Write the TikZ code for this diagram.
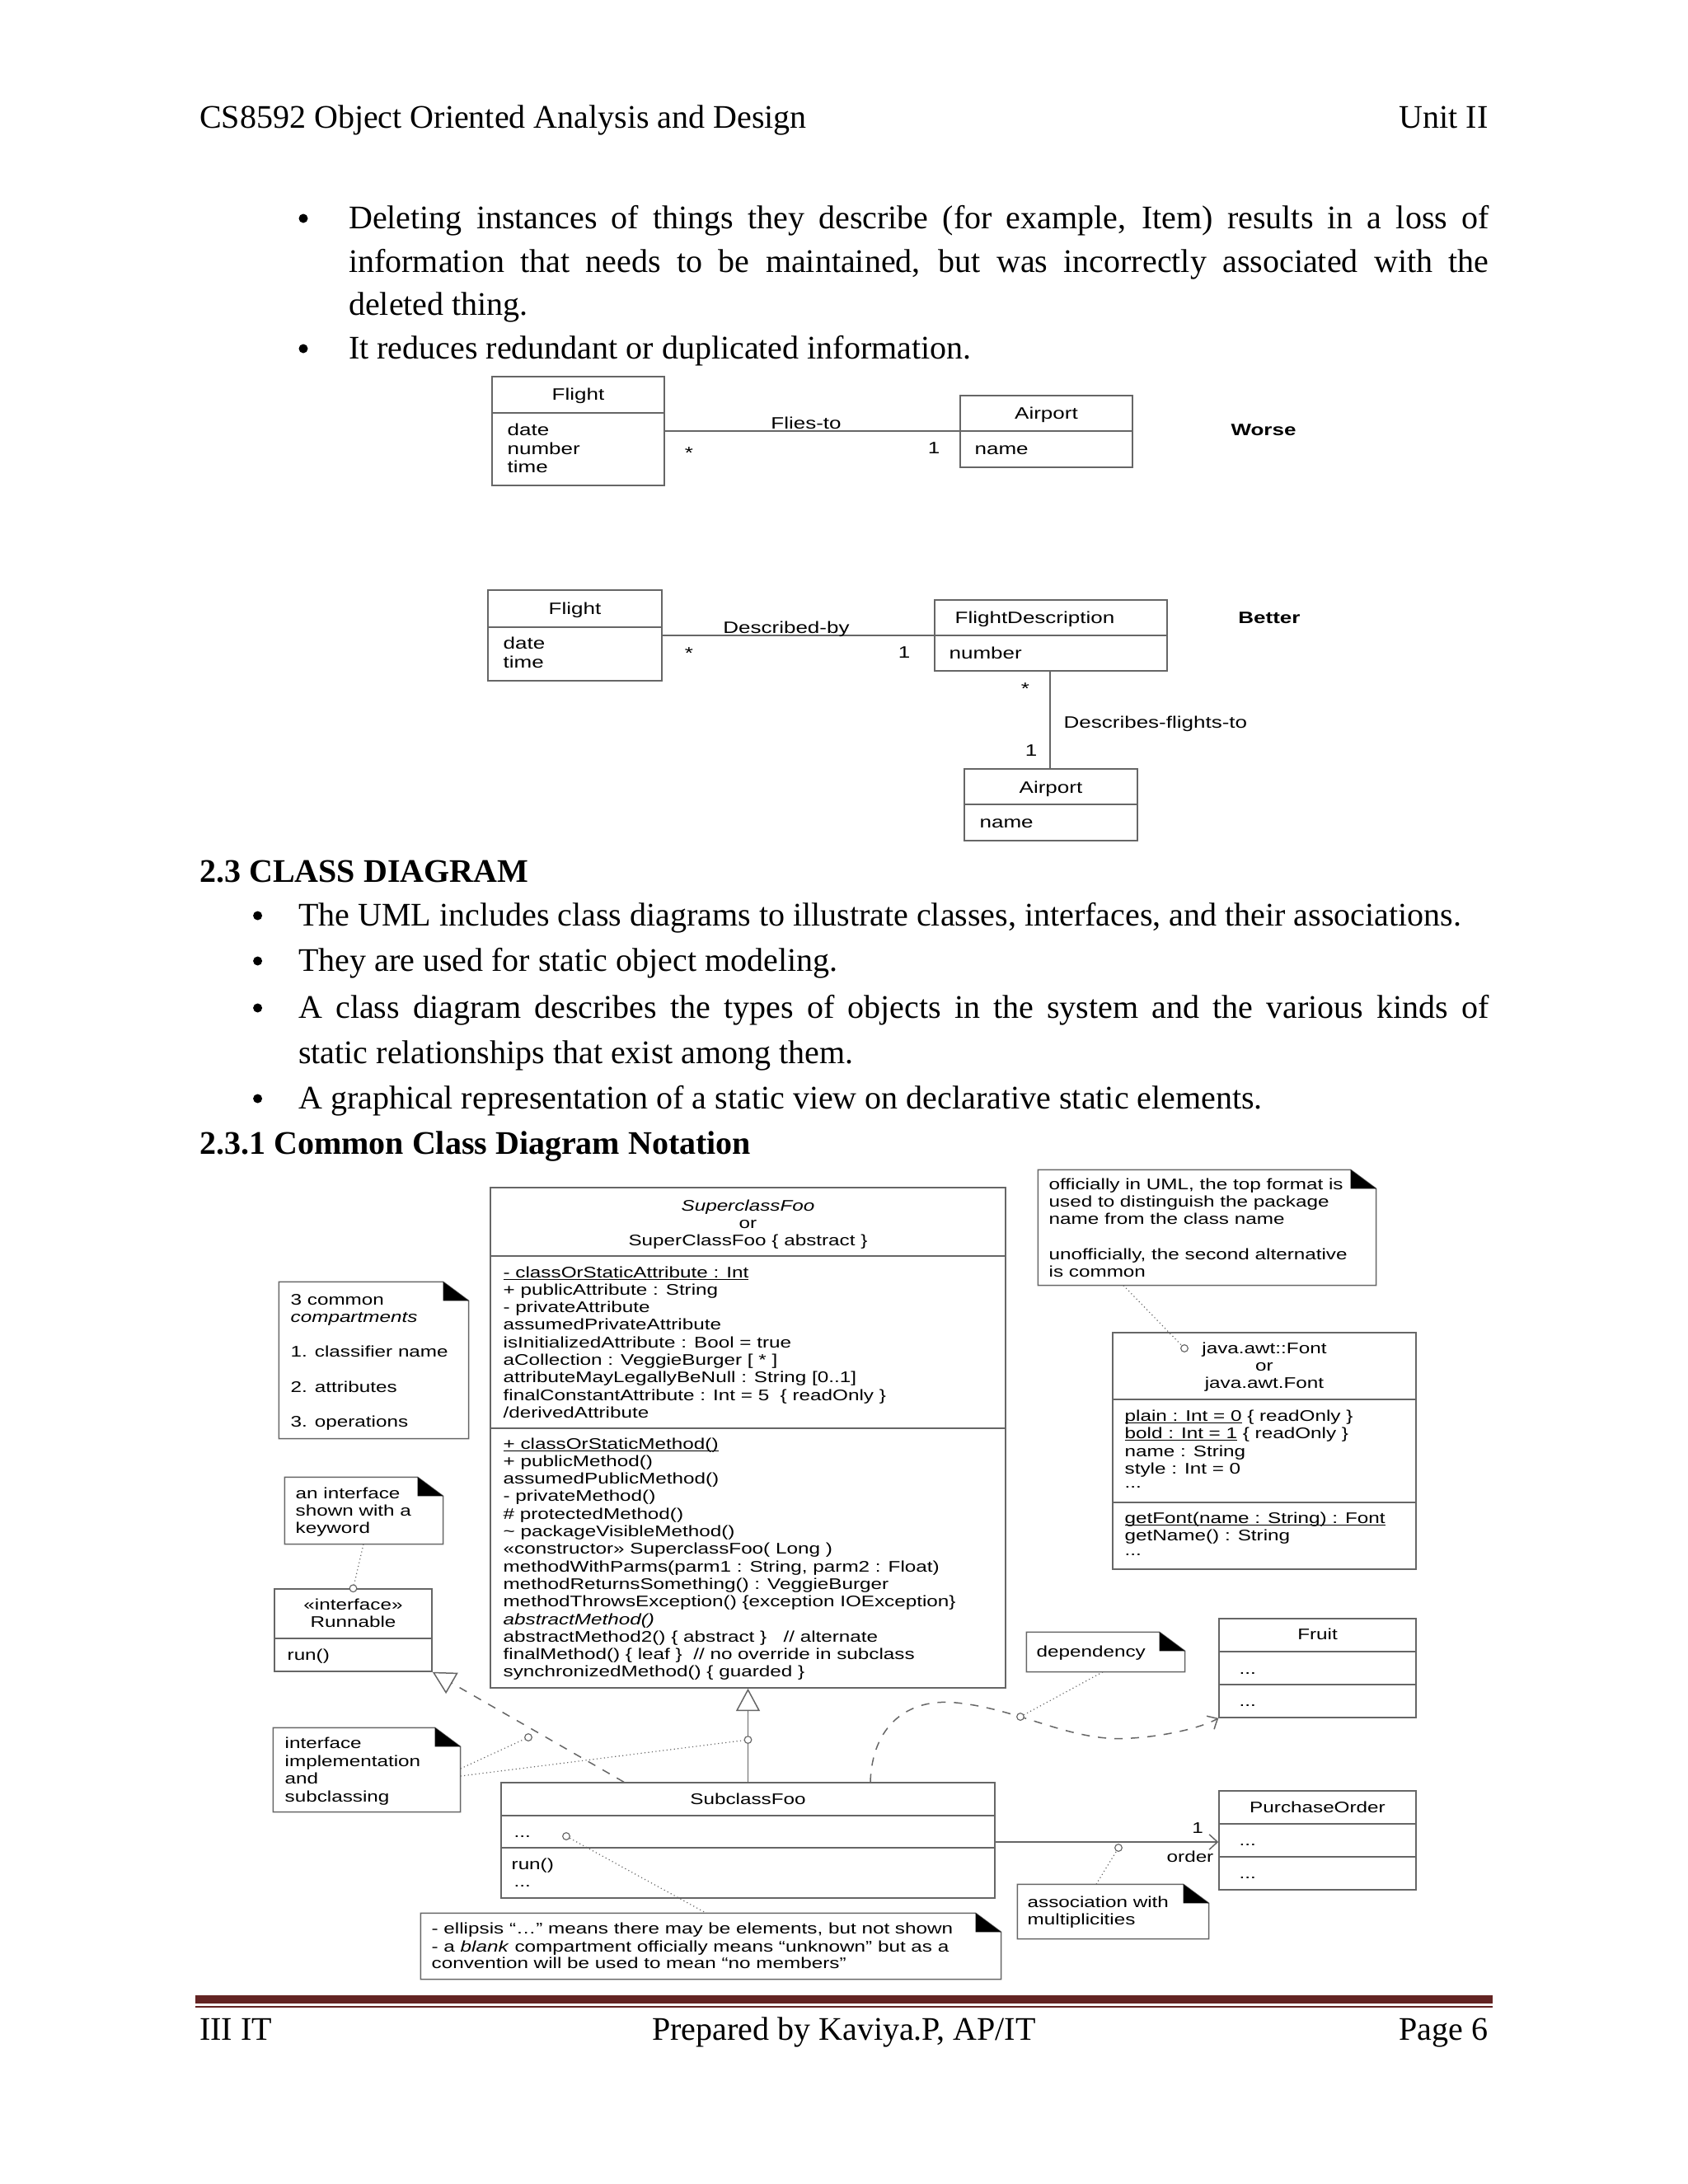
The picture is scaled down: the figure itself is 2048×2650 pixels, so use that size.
\documentclass[tikz,border=0pt]{standalone}
\usepackage{fontspec}
\setmainfont{Liberation Serif}
\newfontfamily\dsans[FakeStretch=1.3]{Liberation Sans}
\usetikzlibrary{arrows.meta,fit,calc}
\definecolor{barred}{HTML}{632423}
\newcommand\ulx[1]{\setbox0\hbox{#1}\rlap{\rule[-0.85pt]{\wd0}{0.3pt}}\box0\relax}
\newcommand\drawnote[5]{%
  \node[inner sep=0, fit={(#2,#3) (#4,#5)}] (#1) {};
  \draw[div] (#1.north west) -- ($(#1.north east)+(-31,0)$) -- ($(#1.north east)+(0,23)$) -- (#1.south east) -- (#1.south west) -- cycle;
  \fill ($(#1.north east)+(-31,0)$) -- ($(#1.north east)+(0,23)$) -- ($(#1.north east)+(-31,23)$) -- cycle;
}
\begin{document}
\begin{tikzpicture}[x=0.3pt,y=-0.3pt,
  body/.style={inner sep=0, anchor=base west, font=\fontsize{12}{14}\selectfont},
  bodyb/.style={body, font=\fontsize{12}{14}\selectfont\bfseries},
  bodyc/.style={body, anchor=base},
  bull/.style={circle, fill=black, inner sep=0, minimum size=3.3pt},
  cls/.style={draw=black!60, line width=0.45pt, inner sep=0},
  div/.style={draw=black!60, line width=0.45pt},
  ta/.style={inner sep=0, anchor=base west, font=\dsans\fontsize{6}{7}\selectfont},
  tac/.style={ta, anchor=base},
  tb/.style={inner sep=0, anchor=base west, font=\dsans\fontsize{5.6}{6.5}\selectfont},
  tbc/.style={tb, anchor=base},
  link/.style={densely dotted, draw=black!60, line width=0.35pt},
  hole/.style={circle, draw=black!60, fill=white, inner sep=0, minimum size=2.6pt, line width=0.35pt},
  open tri/.style={-{Triangle[open,length=8.2pt,width=8.7pt]}},
  barb/.style={-{Straight Barb[length=3pt,width=5.5pt]}}
]
\useasboundingbox (0,0) rectangle (2048,2650);
\fill[white] (0,0) rectangle (2048,2650);

% ---------- header ----------
\node[body] (hdrL) at (241.6,155) {CS8592 Object Oriented Analysis and Design};
\node[body, anchor=base east] (hdrR) at (1806,155) {Unit II};

% ---------- top bullets ----------
\node[bull] (b1) at (368,265) {};
\node[body] (l1) at (422.5,277) {\makebox[415pt][s]{Deleting instances of things they describe (for example, Item) results in a loss of}};
\node[body] (l2) at (422.5,330) {\makebox[415pt][s]{information that needs to be maintained, but was incorrectly associated with the}};
\node[body] (l3) at (422.5,382) {deleted thing.};
\node[bull] (b2) at (368,423) {};
\node[body] (l4) at (422.5,435) {It reduces redundant or duplicated information.};

% ---------- diagram 1 (Worse) ----------
\node[cls, fit={(597,457) (806,589)}] (flightA) {};
\draw[div] (flightA.west |- 0,501) -- (flightA.east |- 0,501);
\node[tac] (flightAt) at (flightA.center |- 0,485) {Flight};
\node[ta] (fa1) at (615,528) {date};
\node[ta] (fa2) at (615,551) {number};
\node[ta] (fa3) at (615,573) {time};
\node[cls, fit={(1165,480) (1374,567)}] (airportA) {};
\draw[div] (airportA.west |- 0,523) -- (airportA.east |- 0,523);
\node[tac] (airportAt) at (airportA.center |- 0,508) {Airport};
\node[ta] (aa1) at (1182,551) {name};
\draw[div] (flightA.east |- 0,523) -- (airportA.west |- 0,523);
\node[tac] (fliesto) at (978,520) {Flies-to};
\node[tac] (mA1) at (836,556) {*};
\node[tac] (mA2) at (1133,550) {1};
\node[tac, font=\dsans\fontsize{6}{7}\selectfont\bfseries] (worse) at (1533,528) {Worse};

% ---------- diagram 2 (Better) ----------
\node[cls, fit={(592,716) (803,826)}] (flightB) {};
\draw[div] (flightB.west |- 0,761) -- (flightB.east |- 0,761);
\node[tac] (flightBt) at (flightB.center |- 0,745) {Flight};
\node[ta] (fb1) at (610,787) {date};
\node[ta] (fb2) at (610,810) {time};
\node[cls, fit={(1134,728) (1416,814)}] (fdesc) {};
\draw[div] (fdesc.west |- 0,771) -- (fdesc.east |- 0,771);
\node[ta] (fdesct) at (1158,756) {FlightDescription};
\node[ta] (fd1) at (1151,799) {number};
\draw[div] (flightB.east |- 0,771) -- (fdesc.west |- 0,771);
\node[tac] (descby) at (954,768) {Described-by};
\node[tac] (mB1) at (836,799) {*};
\node[tac] (mB2) at (1097,798) {1};
\node[cls, fit={(1170,933) (1380,1020)}] (airportB) {};
\draw[div] (airportB.west |- 0,976) -- (airportB.east |- 0,976);
\node[tac] (airportBt) at (airportB.center |- 0,962) {Airport};
\node[ta] (ab1) at (1188,1004) {name};
\draw[div] (fdesc.south -| 1274,0) -- (airportB.north -| 1274,0);
\node[tac] (mB3) at (1244,842) {*};
\node[tac] (mB4) at (1251,917) {1};
\node[ta] (descfl) at (1290,883) {Describes-flights-to};
\node[tac, font=\dsans\fontsize{6}{7}\selectfont\bfseries] (better) at (1540,756) {Better};

% ---------- section text ----------
\node[bodyb] (h23) at (241.6,1070) {2.3 CLASS DIAGRAM};
\node[bull] (c1) at (312.6,1111) {};
\node[body] (cl1) at (361.6,1123) {The UML includes class diagrams to illustrate classes, interfaces, and their associations.};
\node[bull] (c2) at (312.6,1166) {};
\node[body] (cl2) at (361.6,1178) {They are used for static object modeling.};
\node[bull] (c3) at (312.6,1223) {};
\node[body] (cl3) at (361.6,1235) {\makebox[433.3pt][s]{A class diagram describes the types of objects in the system and the various kinds of}};
\node[body] (cl4) at (361.6,1290) {static relationships that exist among them.};
\node[bull] (c4) at (312.6,1333) {};
\node[body] (cl5) at (361.6,1345) {A graphical representation of a static view on declarative static elements.};
\node[bodyb] (h231) at (241.6,1400) {2.3.1 Common Class Diagram Notation};

% ---------- SuperclassFoo ----------
\node[cls, fit={(595,1441) (1220,2048)}] (super) {};
\draw[div] (super.west |- 0,1524) -- (super.east |- 0,1524);
\draw[div] (super.west |- 0,1733) -- (super.east |- 0,1733);
\node[tbc] (st1) at (super.center |- 0,1469) {\textit{SuperclassFoo}};
\node[tbc] (st2) at (super.center |- 0,1490) {or};
\node[tbc] (st3) at (super.center |- 0,1511) {SuperClassFoo \{ abstract \}};
\foreach \t [count=\i] in {{\ulx{- classOrStaticAttribute : Int}},
  {+ publicAttribute : String},{- privateAttribute},{assumedPrivateAttribute},
  {isInitializedAttribute : Bool = true},{aCollection : VeggieBurger [ * ]},
  {attributeMayLegallyBeNull : String [0..1]},
  {finalConstantAttribute : Int = 5 \ \{ readOnly \}},{/derivedAttribute}}
  \node[tb] (sa\i) at (610,{1550+(\i-1)*21.3}) {\t};
\foreach \t [count=\i] in {{\ulx{+ classOrStaticMethod()}},
  {+ publicMethod()},{assumedPublicMethod()},{- privateMethod()},
  {\# protectedMethod()},{\textasciitilde{} packageVisibleMethod()},
  {«constructor» SuperclassFoo( Long )},
  {methodWithParms(parm1 : String, parm2 : Float)},
  {methodReturnsSomething() : VeggieBurger},
  {methodThrowsException() \{exception IOException\}},
  {\textit{abstractMethod()}},
  {abstractMethod2() \{ abstract \} \ \ // alternate},
  {finalMethod() \{ leaf \} \ // no override in subclass},
  {synchronizedMethod() \{ guarded \}}}
  \node[tb] (sm\i) at (610,{1758+(\i-1)*21.3}) {\t};

% ---------- 3 common compartments note ----------
\drawnote{n3c}{339}{1556}{568}{1745}
\node[tb] (n3c1) at (352,1583) {3 common};
\node[tb] (n3c2) at (352,1604) {\textit{compartments}};
\node[tb] (n3c3) at (352,1646) {1. classifier name};
\node[tb] (n3c4) at (352,1689) {2. attributes};
\node[tb] (n3c5) at (352,1731) {3. operations};

% ---------- interface note + Runnable ----------
\drawnote{nif}{346}{1793}{537}{1873}
\node[tb] (nif1) at (358,1818) {an interface};
\node[tb] (nif2) at (358,1839) {shown with a};
\node[tb] (nif3) at (358,1860) {keyword};
\node[cls, fit={(333,1928) (524,2028)}] (runnable) {};
\draw[div] (runnable.west |- 0,1988) -- (runnable.east |- 0,1988);
\node[tbc] (rt1) at (runnable.center |- 0,1953) {«interface»};
\node[tbc] (rt2) at (runnable.center |- 0,1974) {Runnable};
\node[tb] (rm1) at (348,2014) {run()};
\node[hole] (hif) at (runnable.north) {};
\draw[link] (nif.south -| 441,0) -- (hif);

% ---------- SubclassFoo ----------
\node[cls, fit={(608,2163) (1207,2303)}] (sub) {};
\draw[div] (sub.west |- 0,2203) -- (sub.east |- 0,2203);
\draw[div] (sub.west |- 0,2242) -- (sub.east |- 0,2242);
\node[tbc] (subt) at (sub.center |- 0,2189) {SubclassFoo};
\node[tb] (suba) at (623,2229) {...};
\node[tb] (subm1) at (620,2268) {run()};
\node[tb] (subm2) at (623,2289) {...};
\draw[div, open tri] (sub.north) -- (super.south);
\draw[div, dashed, open tri] (sub.north -| 757,0) -- (runnable.south east);

% ---------- implementation note ----------
\drawnote{nimpl}{332}{2097}{558}{2198}
\node[tb] (ni1) at (345,2121) {interface};
\node[tb] (ni2) at (345,2143) {implementation};
\node[tb] (ni3) at (345,2164) {and};
\node[tb] (ni4) at (345,2186) {subclassing};
\node[hole] (hreal) at (641,2108) {};
\node[hole] (hgen) at (907.5,2111) {};
\draw[link] (nimpl.east |- 0,2146) -- (hreal);
\draw[link] (nimpl.east |- 0,2155) -- (hgen);

% ---------- Fruit + dependency ----------
\node[cls, fit={(1479,1964) (1718,2084)}] (fruit) {};
\draw[div] (fruit.west |- 0,2004) -- (fruit.east |- 0,2004);
\draw[div] (fruit.west |- 0,2044) -- (fruit.east |- 0,2044);
\node[tbc] (fruitt) at (fruit.center |- 0,1989) {Fruit};
\node[tb] (fr1) at (1503,2031) {...};
\node[tb] (fr2) at (1503,2070) {...};
\draw[div, dashed, barb] (sub.north -| 1056,0) .. controls (1058,2095) and (1100,2060) .. (1160,2066)
  .. controls (1240,2074) and (1300,2115) .. (1373,2109)
  .. controls (1420,2106) and (1460,2095) .. (fruit.south west);
\drawnote{ndep}{1246}{1981}{1437}{2028}
\node[tb] (ndep1) at (1257,2010) {dependency};
\node[hole] (hdep) at (1238,2083) {};
\draw[link] (ndep.south -| 1338,0) -- (hdep);

% ---------- PurchaseOrder + association ----------
\node[cls, fit={(1479,2173) (1718,2293)}] (po) {};
\draw[div] (po.west |- 0,2213) -- (po.east |- 0,2213);
\draw[div] (po.west |- 0,2253) -- (po.east |- 0,2253);
\node[tbc] (pot) at (po.center |- 0,2199) {PurchaseOrder};
\node[tb] (po1) at (1503,2239) {...};
\node[tb] (po2) at (1503,2279) {...};
\draw[div, barb] (sub.east |- 0,2235) -- (po.west |- 0,2235);
\node[tbc] (poM) at (1453,2224) {1};
\node[tbc] (poR) at (1444,2259) {order};
\node[hole] (hassoc) at (1357,2242) {};
\drawnote{nas}{1235}{2287}{1466}{2352}
\node[tb] (nas1) at (1246,2314) {association with};
\node[tb] (nas2) at (1246,2335) {multiplicities};
\draw[link] (nas.north -| 1330,0) -- (hassoc);

% ---------- ellipsis note ----------
\drawnote{nell}{511}{2322}{1214}{2401}
\node[tb] (ne1) at (523,2346) {- ellipsis “…” means there may be elements, but not shown};
\node[tb] (ne2) at (523,2368) {- a \textit{blank} compartment officially means “unknown” but as a};
\node[tb] (ne3) at (523,2388) {convention will be used to mean “no members”};
\node[hole] (hell) at (687,2228) {};
\draw[link] (hell) -- (nell.north -| 857,0);

% ---------- official note + Font ----------
\drawnote{nof}{1260}{1420}{1669}{1559}
\node[tb] (no1) at (1272,1443) {officially in UML, the top format is};
\node[tb] (no2) at (1272,1464) {used to distinguish the package};
\node[tb] (no3) at (1272,1485) {name from the class name};
\node[tb] (no4) at (1272,1528) {unofficially, the second alternative};
\node[tb] (no5) at (1272,1549) {is common};
\node[cls, fit={(1350,1617) (1718,1904)}] (font) {};
\draw[div] (font.west |- 0,1698) -- (font.east |- 0,1698);
\draw[div] (font.west |- 0,1823) -- (font.east |- 0,1823);
\node[tbc] (ft1) at (1534,1642) {java.awt::Font};
\node[tbc] (ft2) at (1534,1663) {or};
\node[tbc] (ft3) at (1534,1684) {java.awt.Font};
\node[tb] (fa1b) at (1364,1724) {\ulx{plain : Int = 0} \{ readOnly \}};
\node[tb] (fa2b) at (1364,1745) {\ulx{bold : Int = 1} \{ readOnly \}};
\node[tb] (fa3b) at (1364,1767) {name : String};
\node[tb] (fa4b) at (1364,1788) {style : Int = 0};
\node[tb] (fa5b) at (1364,1805) {...};
\node[tb] (fm1) at (1364,1848) {\ulx{getFont(name : String) : Font}};
\node[tb] (fm2) at (1364,1869) {getName() : String};
\node[tb] (fm3) at (1364,1887) {...};
\node[hole] (hof) at (1437,1636) {};
\draw[link] (nof.south -| 1363,0) -- (hof);

% ---------- footer ----------
\fill[barred] (237,2421) rectangle (1811,2431);
\fill[barred] (237,2433.5) rectangle (1811,2435.5);
\node[body] (ftL) at (241.6,2475) {III IT};
\node[bodyc] (ftC) at (1024,2475) {Prepared by Kaviya.P, AP/IT};
\node[body, anchor=base east] (ftR) at (1806,2475) {Page 6};
\end{tikzpicture}
\end{document}
